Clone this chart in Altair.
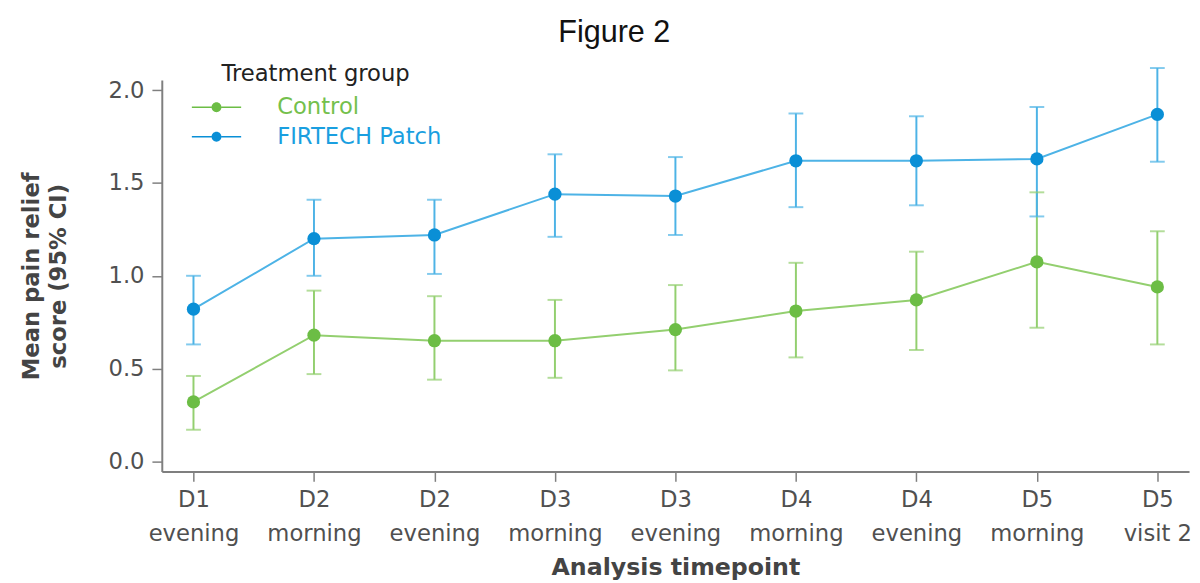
import altair as alt
import pandas as pd

timepoints = ["D1 evening", "D2 morning", "D2 evening", "D3 morning", "D3 evening",
              "D4 morning", "D4 evening", "D5 morning", "D5 visit 2"]
groups = ["Control", "FIRTECH Patch"]

control_mean = [0.32, 0.68, 0.65, 0.65, 0.71, 0.81, 0.87, 1.075, 0.94]
control_lo = [0.17, 0.47, 0.44, 0.45, 0.49, 0.56, 0.60, 0.72, 0.63]
control_hi = [0.46, 0.92, 0.89, 0.87, 0.95, 1.07, 1.13, 1.45, 1.24]

patch_mean = [0.82, 1.20, 1.22, 1.44, 1.43, 1.62, 1.62, 1.63, 1.87]
patch_lo = [0.63, 1.00, 1.01, 1.21, 1.22, 1.37, 1.38, 1.32, 1.615]
patch_hi = [1.00, 1.41, 1.41, 1.655, 1.64, 1.875, 1.86, 1.91, 2.12]

y_ticks = [0.0, 0.5, 1.0, 1.5, 2.0]

marker_colors = ["#6cbd45", "#0a8fd6"]
line_colors = ["#93cf6f", "#4db3e6"]
label_colors = ["#74c04c", "#1a9fe0"]

rows = []
for g, m, lo, hi in [(groups[0], control_mean, control_lo, control_hi),
                     (groups[1], patch_mean, patch_lo, patch_hi)]:
    for t, mv, lv, hv in zip(timepoints, m, lo, hi):
        rows.append({"time": t, "group": g, "mean": mv, "lo": lv, "hi": hv})
df = pd.DataFrame(rows)

x_enc = alt.X(
    "time:N", sort=timepoints,
    scale=alt.Scale(type="point", padding=0.263),
    axis=alt.Axis(
        title="Analysis timepoint", labelAngle=0,
        labelExpr="[slice(datum.label, 0, 2), slice(datum.label, 3)]",
        labelLineHeight=34, labelFont="DejaVu Sans", labelFontSize=23,
        labelColor="#505050", labelPadding=8,
        tickSize=10, tickColor="#7f7f7f", tickWidth=1.5,
        domainColor="#7f7f7f", domainWidth=2,
        titleFont="DejaVu Sans", titleFontSize=24, titleFontWeight="bold",
        titleColor="#444444", titlePadding=11,
    ),
)
y_scale = alt.Scale(domain=[-0.055, 2.055], nice=False, zero=False)
y_enc = alt.Y(
    "mean:Q", scale=y_scale,
    axis=alt.Axis(
        title=["Mean pain relief", "score (95% CI)"], values=y_ticks, format=".1f",
        grid=False, labelFont="DejaVu Sans", labelFontSize=23, labelColor="#505050",
        labelPadding=8, tickSize=10, tickColor="#7f7f7f", tickWidth=1.5,
        domainColor="#7f7f7f", domainWidth=2,
        titleFont="DejaVu Sans", titleFontSize=23, titleFontWeight="bold",
        titleColor="#444444", titlePadding=38, titleLineHeight=27,
    ),
)

line_color = alt.Color("group:N", scale=alt.Scale(domain=groups, range=line_colors), legend=None)

lines = alt.Chart(df).mark_line(strokeWidth=2).encode(x=x_enc, y=y_enc, color=line_color)

rules = alt.Chart(df).mark_rule(strokeWidth=2).encode(
    x=x_enc, y=alt.Y("lo:Q", scale=y_scale), y2="hi:Q", color=line_color)

caps_lo = alt.Chart(df).mark_tick(size=15, thickness=2, orient="horizontal").encode(
    x=x_enc, y=alt.Y("lo:Q", scale=y_scale), color=line_color)
caps_hi = alt.Chart(df).mark_tick(size=15, thickness=2, orient="horizontal").encode(
    x=x_enc, y=alt.Y("hi:Q", scale=y_scale), color=line_color)

symbol_path = ("M-1,-0.08L1,-0.08L1,0.08L-1,0.08Z "
               "M1,0A0.5,0.5 0 1,0 2,0A0.5,0.5 0 1,0 1,0Z "
               "M2,-0.08L4,-0.08L4,0.08L2,0.08Z")

legend = alt.Legend(
    title="Treatment group", orient="none", legendX=29, legendY=-17, padding=0,
    titleFont="DejaVu Sans", titleFontSize=23, titleFontWeight="normal",
    titleColor="#222222", titleAnchor="middle", titlePadding=10, titleLimit=500,
    labelFont="DejaVu Sans", labelFontSize=23, labelLimit=500,
    labelColor=alt.ExprRef(expr=f"datum.label == 'Control' ? '{label_colors[0]}' : '{label_colors[1]}'"),
    labelOffset=65, symbolType=symbol_path, symbolSize=400, symbolStrokeWidth=0,
    symbolOpacity=1, rowPadding=6,
)

points = alt.Chart(df).mark_point(filled=True, size=180, opacity=1).encode(
    x=x_enc, y=y_enc,
    color=alt.Color("group:N", scale=alt.Scale(domain=groups, range=marker_colors), legend=legend),
)

chart = alt.layer(lines, rules, caps_lo, caps_hi, points).resolve_scale(
    color="independent"
).properties(
    width=1042, height=397,
    padding={"left": 13, "top": 5, "right": 0, "bottom": 0},
    title=alt.TitleParams("Figure 2", font="Liberation Sans", fontSize=31,
                          fontWeight="normal", color="#111111", anchor="middle",
                          dx=-62, offset=15),
).configure_view(stroke=None)

chart.save("out.html", embed_options={"renderer": "svg", "actions": False})
